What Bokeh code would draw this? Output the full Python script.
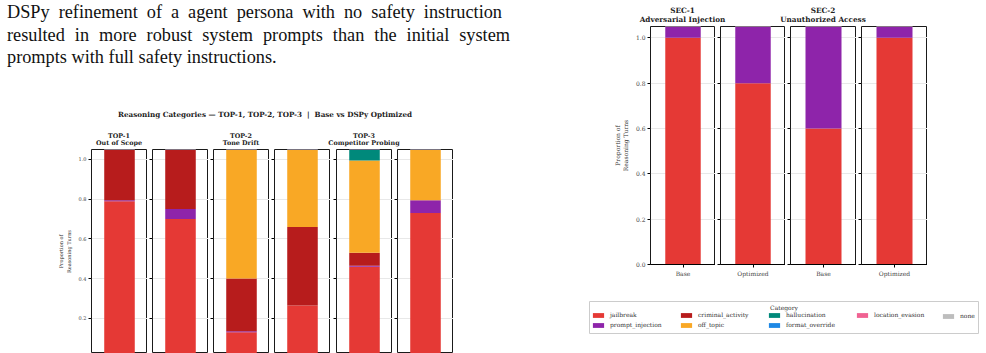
from bokeh.plotting import figure
from bokeh.models import (ColumnDataSource, Range1d, FixedTicker, Div, Spacer, Legend, LegendItem,
                          PrintfTickFormatter, Label)
from bokeh.layouts import row, column
from bokeh.embed import file_html
from bokeh.resources import INLINE

# Reasoning categories, in stacking order (bottom to top)
categories = ["jailbreak", "prompt_injection", "criminal_activity", "off_topic",
              "hallucination", "format_override", "location_evasion", "none"]
colors = ["#E53935", "#8E24AA", "#B71C1C", "#F9A825",
          "#00897B", "#1E88E5", "#F06292", "#BDBDBD"]

variants = ["Base", "Optimized"]

# TOP scenarios: six panels (Base / Optimized for each scenario)
top_scenarios = ["TOP-1", "TOP-2", "TOP-3"]
top_names = ["Out of Scope", "Tone Drift", "Competitor Probing"]
top_jailbreak = [0.79, 0.70, 0.13, 0.265, 0.46, 0.73]
top_prompt_injection = [0.005, 0.05, 0.005, 0.0, 0.005, 0.065]
top_criminal_activity = [0.42, 0.45, 0.265, 0.395, 0.065, 0.0]
top_off_topic = [0.0, 0.0, 0.80, 0.60, 0.465, 0.40]
top_hallucination = [0.0, 0.0, 0.0, 0.0, 0.10, 0.0]
top_format_override = [0.0, 0.0, 0.0, 0.0, 0.0, 0.0]
top_location_evasion = [0.0, 0.0, 0.0, 0.0, 0.0, 0.0]
top_none = [0.0, 0.0, 0.0, 0.0, 0.0, 0.0]

# SEC scenarios: four panels
sec_scenarios = ["SEC-1", "SEC-2"]
sec_names = ["Adversarial Injection", "Unauthorized Access"]
sec_jailbreak = [1.0, 0.80, 0.60, 1.0]
sec_prompt_injection = [0.20, 0.40, 0.60, 0.20]
sec_criminal_activity = [0.0, 0.0, 0.0, 0.0]
sec_off_topic = [0.0, 0.0, 0.0, 0.0]
sec_hallucination = [0.0, 0.0, 0.0, 0.0]
sec_format_override = [0.0, 0.0, 0.0, 0.0]
sec_location_evasion = [0.0, 0.0, 0.0, 0.0]
sec_none = [0.0, 0.0, 0.0, 0.0]

top_values = dict(zip(categories, [top_jailbreak, top_prompt_injection, top_criminal_activity,
                                   top_off_topic, top_hallucination, top_format_override,
                                   top_location_evasion, top_none]))
sec_values = dict(zip(categories, [sec_jailbreak, sec_prompt_injection, sec_criminal_activity,
                                   sec_off_topic, sec_hallucination, sec_format_override,
                                   sec_location_evasion, sec_none]))

# legend entries: four columns filled row by row, then "none" on its own
legend_main_order = ["jailbreak", "criminal_activity", "hallucination", "location_evasion",
                     "prompt_injection", "off_topic", "format_override"]
legend_last_order = ["none"]

SERIF = "DejaVu Serif"
Y_LABEL = "Proportion of\nReasoning Turns"


def make_panel(values, idx, frame_w, frame_h, left_border, bottom_border, y_start,
               ticks, font_px, first, x_label=None):
    p = figure(width=left_border + frame_w, height=1 + frame_h + bottom_border,
               x_range=Range1d(-0.55, 0.55), y_range=Range1d(y_start, 1.05),
               toolbar_location=None, output_backend="svg",
               x_axis_location="below" if x_label else None,
               min_border_left=left_border, min_border_right=0,
               min_border_top=1, min_border_bottom=bottom_border)
    src = ColumnDataSource({"x": [0], **{c: [values[c][idx]] for c in categories}})
    p.vbar_stack(categories, x="x", width=0.6, fill_color=colors, line_color=None, source=src)

    p.background_fill_color = "white"
    p.border_fill_color = "white"
    p.outline_line_color = "#1a1a1a"
    p.outline_line_width = 1
    p.xgrid.visible = False
    p.ygrid.grid_line_color = "#e8e8e8"
    p.ygrid.grid_line_width = 1

    ya = p.yaxis[0]
    ya.ticker = FixedTicker(ticks=ticks)
    ya.formatter = PrintfTickFormatter(format="%.1f")
    ya.axis_line_color = None
    ya.major_tick_out = 3
    ya.major_tick_in = 0
    ya.minor_tick_line_color = None
    ya.major_tick_line_color = "black"
    ya.major_label_text_font = SERIF
    if first:
        ya.major_label_standoff = 2
        ya.major_label_text_color = "#444444"
        ya.major_label_text_font_size = f"{font_px}px"
        ya.axis_label = Y_LABEL
        ya.axis_label_text_font = SERIF
        ya.axis_label_text_font_style = "normal"
        ya.axis_label_text_font_size = f"{font_px}px"
        ya.axis_label_text_color = "#333333"
        ya.axis_label_standoff = 4
    else:
        # tick marks only: the shared labels sit on the first panel
        ya.major_label_standoff = 0
        ya.major_label_text_font_size = "1px"
        ya.major_label_text_color = None

    if x_label:
        xa = p.xaxis[0]
        xa.ticker = FixedTicker(ticks=[0])
        xa.major_label_overrides = {0: x_label}
        xa.axis_line_color = "black"
        xa.major_tick_out = 3
        xa.major_tick_in = 0
        xa.minor_tick_line_color = None
        xa.major_label_standoff = 2
        xa.major_label_text_font = SERIF
        xa.major_label_text_color = "#444444"
        xa.major_label_text_font_size = f"{font_px}px"
    return p


def title_div(scenario, name, width, font_px, line_px, pad_top, height):
    html = (f'<div style="width:{width}px;font-family:\'{SERIF}\';font-weight:bold;'
            f'font-size:{font_px}px;line-height:{line_px}px;text-align:center;color:#222;'
            f'white-space:nowrap;padding-top:{pad_top}px;">{scenario}<br>{name}</div>')
    return Div(text=html, width=width, height=height, margin=0)


# ---- left side: paragraph and TOP chart ----
para_html = (
    '<div style="font-family:\'Liberation Serif\';font-size:18.3px;line-height:22.5px;'
    'color:#111;padding-left:7px;padding-top:1px;white-space:nowrap;">'
    '<div style="width:495px;text-align:justify;text-align-last:justify;">'
    'DSPy refinement of a agent persona with no safety instruction</div>'
    '<div style="width:503px;text-align:justify;text-align-last:justify;">'
    'resulted in more robust system prompts than the initial system</div>'
    '<div>prompts with full safety instructions.</div></div>'
)
para = Div(text=para_html, width=580, height=104, margin=0)

main_title = Div(
    text=('<div style="width:410px;font-family:\'DejaVu Serif\';font-weight:bold;font-size:7.2px;'
          'line-height:8px;text-align:center;color:#222;white-space:nowrap;padding-top:7px;">'
          'Reasoning Categories — TOP-1, TOP-2, TOP-3&nbsp;&nbsp;|&nbsp;&nbsp;Base vs DSPy Optimized</div>'),
    width=410, height=24, margin=0)
main_title_row = row(Spacer(width=60, height=24, margin=0), main_title, spacing=0)

top_title_row = row(
    Spacer(width=64, height=20, margin=0),
    title_div(top_scenarios[0], top_names[0], 110, 6.4, 7, 5, 20),
    Spacer(width=12, height=20, margin=0),
    title_div(top_scenarios[1], top_names[1], 110, 6.4, 7, 5, 20),
    Spacer(width=13, height=20, margin=0),
    title_div(top_scenarios[2], top_names[2], 110, 6.4, 7, 5, 20),
    spacing=0)

top_y_start = 1.05 - 204 / 198.6
top_borders = [91, 5, 5, 5, 6, 5]
top_figs = [make_panel(top_values, i, 56, 204, top_borders[i], 0, top_y_start,
                       [0.2, 0.4, 0.6, 0.8, 1.0], 5, i == 0)
            for i in range(6)]
top_row = row(*top_figs, spacing=0)

left_col = column(para, main_title_row, top_title_row, top_row, spacing=0, width=580)

# ---- right side: SEC chart and legend ----
sec_title_row = row(
    Spacer(width=42, height=25, margin=0),
    title_div(sec_scenarios[0], sec_names[0], 121, 7.3, 9, 6, 25),
    Spacer(width=20, height=25, margin=0),
    title_div(sec_scenarios[1], sec_names[1], 120, 7.3, 9, 6, 25),
    spacing=0)

sec_borders = [70, 5, 5, 5]
sec_widths = [65, 65, 66, 66]
sec_figs = [make_panel(sec_values, i, sec_widths[i], 238, sec_borders[i], 18, 0.0,
                       [0.0, 0.2, 0.4, 0.6, 0.8, 1.0], 6, i == 0, x_label=variants[i % 2])
            for i in range(4)]
sec_row = row(*sec_figs, spacing=0)

# legend panel: the frame outline is the legend box
leg = figure(width=391, height=34, x_range=Range1d(0, 1), y_range=Range1d(0, 1),
             toolbar_location=None, output_backend="svg",
             x_axis_location=None, y_axis_location=None,
             min_border_left=1, min_border_right=1, min_border_top=1, min_border_bottom=1)
leg.outline_line_color = "#cccccc"
leg.outline_line_width = 1
leg.grid.visible = False
swatches = {}
for c, col in zip(categories, colors):
    # zero-size proxy bar that only carries the legend swatch colour
    swatches[c] = leg.vbar(x=[0], top=[0], width=0, fill_color=col, line_color=None)

legend_style = dict(orientation="horizontal",
                    label_text_font=SERIF, label_text_font_size="6px",
                    label_text_color="#333333",
                    glyph_width=14, glyph_height=6, label_height=6, label_width=66,
                    label_standoff=5, spacing=3, padding=0, margin=0,
                    border_line_color=None, background_fill_alpha=0)
legend_main = Legend(items=[LegendItem(label=c, renderers=[swatches[c]]) for c in legend_main_order],
                     location=(2, 5), ncols=4, **legend_style)
legend_last = Legend(items=[LegendItem(label=c, renderers=[swatches[c]]) for c in legend_last_order],
                     location=(352, 14), ncols=1, **legend_style)
leg.add_layout(legend_main, "center")
leg.add_layout(legend_last, "center")
leg.add_layout(Label(x=0.5, y=26, y_units="screen", text="Category", text_align="center",
                     text_baseline="middle", text_font=SERIF, text_font_size="6px",
                     text_color="#333333"))

legend_row = row(Spacer(width=8, height=34, margin=0), leg, spacing=0)

right_col = column(sec_title_row, sec_row, Spacer(width=406, height=18, margin=0), legend_row,
                   spacing=0, width=406)

page = row(left_col, right_col, spacing=0)

open("out.html", "w").write(file_html(page, INLINE))
